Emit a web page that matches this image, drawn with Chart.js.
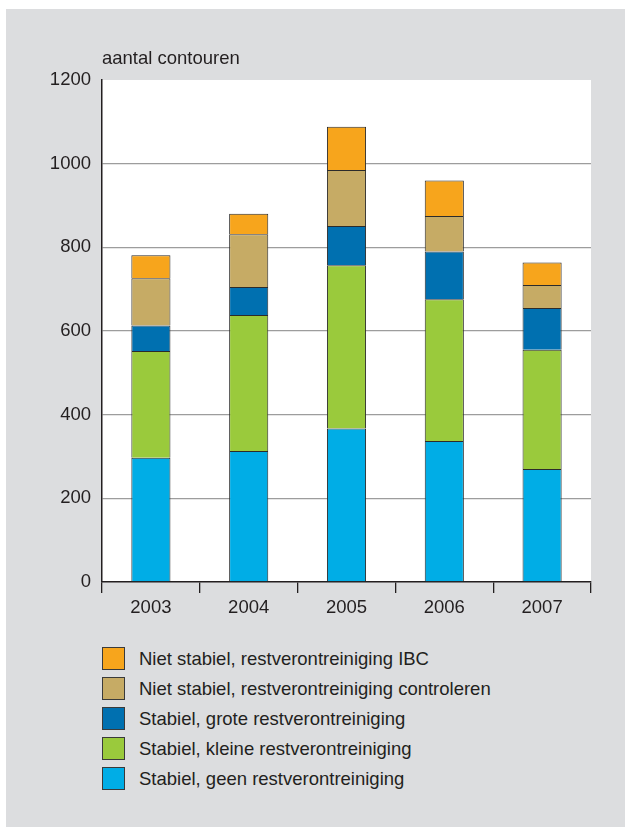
<!DOCTYPE html>
<html>
<head>
<meta charset="utf-8">
<script src="https://cdn.jsdelivr.net/npm/chart.js@4"></script>
<style>
  body { margin: 0; background: #fff; width: 625px; height: 827px; overflow: hidden; position: relative; }
  #panel { position: absolute; left: 6px; top: 9px; right: 0; bottom: 0; background: #dcdddf; }
  #chart { position: absolute; left: 0; top: 0; }
  #legend { position: absolute; left: 102px; top: 647px; margin: 0; padding: 0; list-style: none;
            font-family: 'Liberation Sans', Arial, sans-serif; font-size: 18.5px; color: #231f20; }
  #legend li { height: 30px; display: flex; align-items: flex-start; }
  #legend span.box { width: 21px; height: 21px; border: 1px solid #3a3a3a; margin-right: 14px; flex: none; }
  #legend span.txt { line-height: 24px; }
</style>
</head>
<body>
<div id="panel"></div>
<canvas id="chart" width="625" height="630"></canvas>
<ul id="legend"></ul>
<script>
const years = ['2003', '2004', '2005', '2006', '2007'];
const seriesNames = [
  'Stabiel, geen restverontreiniging',
  'Stabiel, kleine restverontreiniging',
  'Stabiel, grote restverontreiniging',
  'Niet stabiel, restverontreiniging controleren',
  'Niet stabiel, restverontreiniging IBC'
];
const geen = [297, 313, 367, 337, 270];
const kleine = [255, 325, 390, 339, 285];
const grote = [61, 67, 94, 114, 100];
const controleren = [113, 126, 134, 85, 55];
const ibc = [55, 49, 103, 85, 54];
const yTicks = [0, 200, 400, 600, 800, 1000, 1200];
const colors = ['#00ade6', '#9aca3c', '#0070b0', '#c6ab65', '#f7a51c'];

const font = "'Liberation Sans', Arial, sans-serif";
Chart.defaults.font.family = font;
Chart.defaults.font.size = 18.5;
Chart.defaults.color = '#231f20';

const values = [geen, kleine, grote, controleren, ibc];
const datasets = values.map((v, i) => ({
  label: seriesNames[i],
  data: v,
  backgroundColor: colors[i],
  borderColor: '#2b2b2b',
  borderWidth: 1,
  barPercentage: 0.4,
  categoryPercentage: 1
}));

// white plot area + the unit label above the axis
const plotBg = {
  id: 'plotBg',
  beforeDraw(chart) {
    const { ctx, chartArea: a } = chart;
    ctx.save();
    ctx.fillStyle = '#ffffff';
    ctx.fillRect(a.left, a.top, a.right - a.left, a.bottom - a.top);
    ctx.restore();
  },
  afterDraw(chart) {
    const { ctx, chartArea: a } = chart;
    ctx.save();
    ctx.font = '18.5px ' + font;
    ctx.fillStyle = '#231f20';
    ctx.textBaseline = 'alphabetic';
    ctx.fillText('aantal contouren', a.left, 64);
    ctx.restore();
  }
};

new Chart(document.getElementById('chart'), {
  type: 'bar',
  data: { labels: years, datasets },
  options: {
    responsive: false,
    animation: false,
    layout: { padding: { top: 80, right: 34, left: 0, bottom: 0 } },
    plugins: { legend: { display: false }, tooltip: { enabled: false } },
    scales: {
      x: {
        stacked: true,
        offset: true,
        grid: { offset: true, drawOnChartArea: false, drawTicks: true, tickLength: 11, color: '#231f20', lineWidth: 1.3 },
        border: { display: true, color: '#231f20', width: 1.5 },
        ticks: { padding: 4 },
        afterFit(scale) { scale.height = 48; }
      },
      y: {
        stacked: true,
        min: 0,
        max: 1200,
        afterBuildTicks(scale) { scale.ticks = yTicks.map(v => ({ value: v })); },
        grid: {
          drawTicks: false,
          color: ctx => (ctx.tick && (ctx.tick.value === 1200 || ctx.tick.value === 0)) ? 'rgba(0,0,0,0)' : '#9d9d9d',
          lineWidth: 1.3
        },
        border: { display: true, color: '#231f20', width: 1.5 },
        ticks: { padding: 11, callback: v => String(v) },
        afterFit(scale) { scale.width = 102; }
      }
    }
  },
  plugins: [plotBg]
});

// legend, top series first
const legend = document.getElementById('legend');
for (let i = seriesNames.length - 1; i >= 0; i--) {
  const li = document.createElement('li');
  const box = document.createElement('span');
  box.className = 'box';
  box.style.background = colors[i];
  const txt = document.createElement('span');
  txt.className = 'txt';
  txt.textContent = seriesNames[i];
  li.appendChild(box);
  li.appendChild(txt);
  legend.appendChild(li);
}
</script>
</body>
</html>
